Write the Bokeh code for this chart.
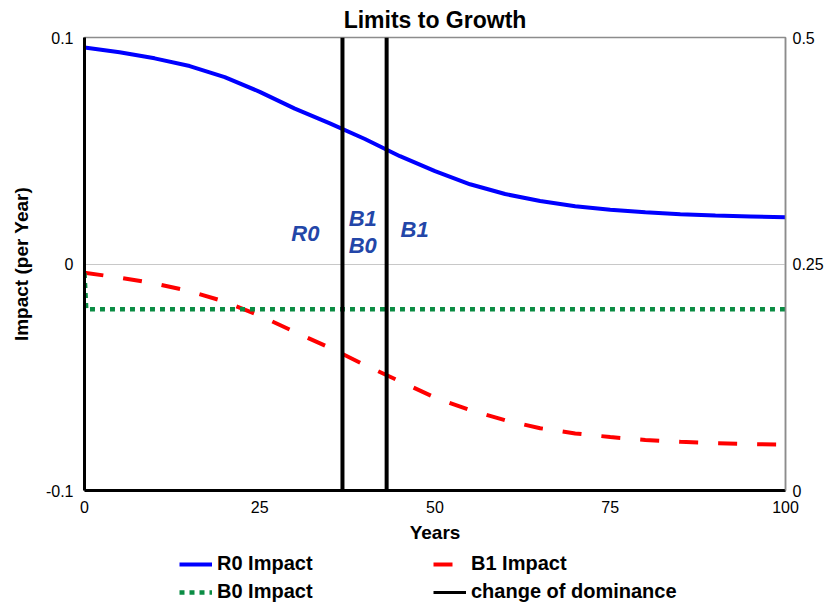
from bokeh.plotting import figure
from bokeh.models import Range1d, LinearAxis, FixedTicker, Legend, LegendItem
from bokeh.layouts import column
from bokeh.core.properties import value
from bokeh.embed import file_html
from bokeh.resources import INLINE

# ---- data ----
years = [0, 5, 10, 15, 20, 25, 30, 35, 40, 45, 50, 55, 60, 65, 70, 75, 80, 85, 90, 95, 100]
r0_impact = [0.0956, 0.0935, 0.0908, 0.0874, 0.0825, 0.0760, 0.0686, 0.0621, 0.0552, 0.0476,
             0.0410, 0.0352, 0.0309, 0.0278, 0.0255, 0.0240, 0.0228, 0.0220, 0.0214, 0.0210, 0.0206]
b1_impact = [-0.0039, -0.0060, -0.0086, -0.0120, -0.0166, -0.0228, -0.0300, -0.0370, -0.0446, -0.0518,
             -0.0590, -0.0645, -0.0690, -0.0725, -0.0748, -0.0764, -0.0777, -0.0785, -0.0791, -0.0795, -0.0797]
b0_years = [0, 0.25, 100]
b0_impact = [-0.004, -0.020, -0.020]
dominance_years = [36.8, 43.1]
x_ticks = [0, 25, 50, 75, 100]
left_ticks = [-0.1, 0, 0.1]
left_labels = ["-0.1", "0", "0.1"]
right_ticks = [0, 0.25, 0.5]
right_labels = ["0", "0.25", "0.5"]
label_x = [31.5, 39.7, 39.7, 47.1]
label_y = [0.0134, 0.0200, 0.0082, 0.0152]
label_text = ["R0", "B1", "B0", "B1"]
legend_labels = ["R0 Impact", "B1 Impact", "B0 Impact", "change of dominance"]

FONT = "Liberation Sans"
BLUE, RED, GREEN, BLACK = "#0000ff", "#ff0000", "#0b8c44", "black"

p = figure(width=827, height=548, x_range=Range1d(0, 100), y_range=Range1d(-0.1, 0.1),
           output_backend="svg", toolbar_location=None,
           min_border_left=84, min_border_right=42, min_border_top=37, min_border_bottom=58)

p.title.text = "Limits to Growth"
p.title.align = "center"
p.title.text_font = FONT
p.title.text_font_size = "23px"
p.title.text_font_style = "bold"
p.title.text_color = "black"
p.title.standoff = 9

p.outline_line_color = "#8c8c8c"
p.outline_line_width = 1.5
p.background_fill_color = "white"
p.border_fill_color = "white"

# axes
xa = p.xaxis[0]
xa.ticker = FixedTicker(ticks=x_ticks)
xa.axis_label = "Years"
ya = p.yaxis[0]
ya.ticker = FixedTicker(ticks=left_ticks)
ya.major_label_overrides = dict(zip(left_ticks, left_labels))
ya.axis_label = "Impact (per Year)"

p.extra_y_ranges = {"right": Range1d(0, 0.5)}
ra = LinearAxis(y_range_name="right", ticker=FixedTicker(ticks=right_ticks),
                major_label_overrides=dict(zip(right_ticks, right_labels)))
p.add_layout(ra, "right")

for ax in (xa, ya, ra):
    ax.major_tick_line_color = None
    ax.minor_tick_line_color = None
    ax.major_tick_in = 0
    ax.major_tick_out = 0
    ax.major_label_text_font = FONT
    ax.major_label_text_font_size = "16px"
    ax.major_label_text_color = "black"
    ax.axis_label_text_font = FONT
    ax.axis_label_text_font_size = "19px"
    ax.axis_label_text_font_style = "bold"
    ax.axis_label_text_color = "black"

xa.axis_line_color = "black"
xa.axis_line_width = 3
xa.major_label_standoff = 10
xa.axis_label_standoff = 6
ya.axis_line_color = "black"
ya.axis_line_width = 3
ya.major_label_standoff = 11
ya.axis_label_standoff = 11
ra.axis_line_color = "#8c8c8c"
ra.axis_line_width = 1.5
ra.major_label_standoff = 7

p.xgrid.grid_line_color = None
p.ygrid.ticker = FixedTicker(ticks=[0])
p.ygrid.grid_line_color = "#c8c8c8"
p.ygrid.grid_line_width = 1

# series
p.line(years, r0_impact, line_color=BLUE, line_width=4)
p.line(years, b1_impact, line_color=RED, line_width=4, line_dash="19 20")
p.line(b0_years, b0_impact, line_color=GREEN, line_width=4.5, line_dash="5 5")
p.segment(x0=dominance_years, y0=[-0.1] * len(dominance_years),
          x1=dominance_years, y1=[0.1] * len(dominance_years),
          line_color=BLACK, line_width=4)

p.text(x=label_x, y=label_y, text=label_text, text_align="center", text_baseline="middle",
       text_font=value(FONT), text_font_size="22px", text_font_style="bold italic",
       text_color="#2346a8")

# ---- legend strip below the chart (its own ranges keep the series out of view) ----
q = figure(width=827, height=58, x_range=Range1d(0, 1), y_range=Range1d(10, 11),
           output_backend="svg", toolbar_location=None,
           x_axis_location=None, y_axis_location=None,
           min_border=0, min_border_left=0, min_border_right=0, min_border_top=0, min_border_bottom=0)
q.title.visible = False
q.outline_line_color = None
q.grid.visible = False
q.background_fill_color = "white"
q.border_fill_color = "white"

g_r0 = q.line(years, r0_impact, line_color=BLUE, line_width=4)
g_b1 = q.line(years, b1_impact, line_color=RED, line_width=4, line_dash="19 20")
g_b0 = q.line(b0_years, b0_impact, line_color=GREEN, line_width=4.5, line_dash="5 5")
g_dom = q.line(dominance_years, dominance_years, line_color=BLACK, line_width=3)

# column-major fill: first column R0 / B0, second column B1 / dominance
legend = Legend(items=[
    LegendItem(label=legend_labels[0], renderers=[g_r0]),
    LegendItem(label=legend_labels[2], renderers=[g_b0]),
    LegendItem(label=legend_labels[1], renderers=[g_b1]),
    LegendItem(label=legend_labels[3], renderers=[g_dom]),
], ncols=2, location=(95, 3))
legend.label_text_font = FONT
legend.label_text_font_size = "20px"
legend.label_text_font_style = "bold"
legend.label_text_color = "black"
legend.glyph_width = 33
legend.glyph_height = 20
legend.label_height = 20
legend.label_standoff = 5
legend.label_width = 211
legend.spacing = 5
legend.padding = 0
legend.margin = 0
legend.border_line_color = None
legend.background_fill_alpha = 0
q.add_layout(legend)

layout = column(p, q, spacing=0)
open("out.html", "w").write(file_html(layout, INLINE))
